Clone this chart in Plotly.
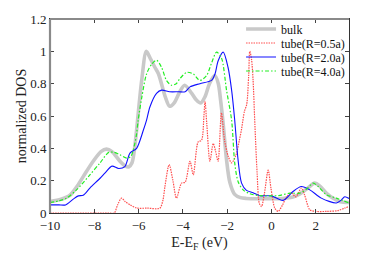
import plotly.graph_objects as go

# ---------------- data ----------------
bulk_x = [-10, -9.5, -9.1, -8.8, -8.5, -8.05, -7.7, -7.45, -7.2, -6.84, -6.6, -6.45, -6.3, -6.2,
          -6.1, -5.86, -5.65, -5.45, -5.26, -5.1, -4.8, -4.6, -4.4, -4.14, -3.92, -3.6, -3.4,
          -3.2, -3.0, -2.8, -2.56, -2.4, -2.3, -2.18, -2.03, -1.88, -1.66, -1.4, -1.13, -0.5,
          0.0, 0.5, 1.0, 1.3, 1.6, 1.95, 2.2, 2.5, 2.8, 3.1, 3.5]
bulk_y = [0.07, 0.085, 0.11, 0.16, 0.225, 0.32, 0.38, 0.395, 0.38, 0.32, 0.29, 0.285, 0.31, 0.38,
          0.50, 0.82, 1.0, 0.95, 0.90, 0.86, 0.72, 0.66, 0.68, 0.75, 0.79, 0.74, 0.70,
          0.68, 0.72, 0.80, 0.85, 0.80, 0.70, 0.55, 0.33, 0.19, 0.115, 0.095, 0.09, 0.088,
          0.088, 0.09, 0.10, 0.12, 0.15, 0.185, 0.165, 0.12, 0.09, 0.07, 0.065]

r05_x = [-10, -7.4, -7.1, -6.95, -6.77, -6.6, -6.39, -6.09, -5.6, -5.04, -4.9, -4.81, -4.62,
         -4.45, -4.29, -4.06, -3.9, -3.68, -3.53, -3.31, -3.16, -3.05, -3.0, -2.92, -2.78,
         -2.63, -2.52, -2.41, -2.26, -2.12, -1.95, -1.8, -1.6, -1.45, -1.35, -1.22, -1.12,
         -1.03, -0.98, -0.9, -0.83, -0.75, -0.65, -0.55, -0.45, -0.32, -0.15, -0.02, 0.15,
         0.3, 0.5, 0.68, 0.9, 1.1, 1.35, 1.5, 1.73, 2.0, 2.5, 3.0, 3.3, 3.5]
r05_y = [0.0, 0.0, 0.0, 0.05, 0.092, 0.07, 0.051, 0.031, 0.03, 0.03, 0.08, 0.164, 0.30,
         0.20, 0.092, 0.185, 0.19, 0.32, 0.236, 0.44, 0.45, 0.60, 0.69, 0.55, 0.32,
         0.43, 0.38, 0.32, 0.62, 0.45, 0.35, 0.31, 0.36, 0.45, 0.52, 0.63, 0.67,
         0.85, 1.0, 0.95, 0.82, 0.55, 0.25, 0.06, 0.04, 0.12, 0.265, 0.15, 0.03,
         0.01, 0.05, 0.10, 0.123, 0.10, 0.154, 0.11, 0.02, 0.01, 0.01, 0.015, 0.03, 0.04]

r20_x = [-10, -9.6, -9.3, -8.95, -8.72, -8.5, -8.2, -7.74, -7.5, -7.2, -6.9, -6.62, -6.39,
         -6.09, -5.79, -5.64, -5.49, -5.19, -4.96, -4.6, -4.2, -3.9, -3.68, -3.23, -2.71,
         -2.55, -2.41, -2.18, -1.96, -1.80, -1.66, -1.51, -1.35, -1.13, -0.83, -0.53, 0.0,
         0.52, 0.97, 1.35, 1.73, 2.25, 2.93, 3.15, 3.31, 3.5]
r20_y = [0.05, 0.05, 0.05, 0.086, 0.106, 0.11, 0.154, 0.215, 0.25, 0.29, 0.275, 0.287, 0.37,
         0.40, 0.51, 0.574, 0.656, 0.74, 0.76, 0.75, 0.75, 0.75, 0.78, 0.80, 0.82,
         0.86, 0.94, 0.995, 0.90, 0.76, 0.574, 0.33, 0.185, 0.14, 0.125, 0.107, 0.106,
         0.078, 0.133, 0.164, 0.143, 0.092, 0.062, 0.08, 0.10, 0.09]

r40_x = [-10, -9.6, -9.25, -8.8, -8.2, -7.74, -7.35, -7.1, -6.84, -6.54, -6.35, -6.24, -6.1,
         -6.02, -5.85, -5.64, -5.41, -5.19, -4.96, -4.74, -4.51, -4.3, -4.14, -3.83, -3.53,
         -3.23, -2.93, -2.7, -2.48, -2.26, -2.03, -1.80, -1.66, -1.51, -1.28, -0.98, -0.5,
         0.33, 0.83, 1.28, 1.6, 1.88, 2.1, 2.48, 2.93, 3.5]
r40_y = [0.065, 0.075, 0.092, 0.143, 0.236, 0.31, 0.375, 0.375, 0.36, 0.34, 0.35, 0.39, 0.48,
         0.574, 0.72, 0.86, 0.92, 0.945, 0.90, 0.82, 0.79, 0.80, 0.83, 0.87, 0.86,
         0.82, 0.85, 0.93, 0.995, 0.96, 0.76, 0.574, 0.31, 0.195, 0.143, 0.119, 0.107,
         0.108, 0.123, 0.123, 0.15, 0.185, 0.165, 0.113, 0.092, 0.062]

series_names = ["bulk", "tube(R=0.5a)", "tube(R=2.0a)", "tube(R=4.0a)"]
x_ticks = [-10, -8, -6, -4, -2, 0, 2]
y_ticks = [0, 0.2, 0.4, 0.6, 0.8, 1.0, 1.2]
y_tick_text = ["0", "0.2", "0.4", "0.6", "0.8", "1", "1.2"]

# ---------------- figure ----------------
FONT = "Liberation Serif"

fig = go.Figure()
styles = [
    dict(color="#c9c9c9", width=3.6, dash="solid"),
    dict(color="#ff4d4d", width=1.2, dash="1.5px,1px"),
    dict(color="#1010ff", width=1.1, dash="solid"),
    dict(color="#22ee22", width=1.2, dash="4px,2px,1.5px,2px"),
]
data = [(bulk_x, bulk_y), (r05_x, r05_y), (r20_x, r20_y), (r40_x, r40_y)]
legend_ids = ["legend", "legend2", "legend3", "legend4"]
for (xs, ys), name, st, lg in zip(data, series_names, styles, legend_ids):
    fig.add_trace(go.Scatter(
        x=xs, y=ys, mode="lines", name=name, legend=lg,
        line=dict(color=st["color"], width=st["width"], dash=st["dash"],
                  shape="spline", smoothing=0.8),
        hoverinfo="skip",
    ))

# legend rows (centre of each row, in plot-area pixels from the top)
legend_row_px = [10, 24, 38, 52]
legend_common = dict(
    x=0.639, xanchor="left", yanchor="middle",
    bgcolor="rgba(0,0,0,0)", borderwidth=0,
    font=dict(family=FONT, size=12, color="#111"),
    itemwidth=30, tracegroupgap=0,
)
layout_legends = {}
for lg, py in zip(legend_ids, legend_row_px):
    layout_legends[lg] = dict(y=1 - py / 194.0, **legend_common)

fig.update_layout(
    width=386, height=259,
    margin=dict(l=50, r=37, t=19, b=46, autoexpand=False),
    paper_bgcolor="white", plot_bgcolor="white",
    showlegend=True,
    font=dict(family=FONT, size=13, color="#222"),
    xaxis=dict(
        range=[-10, 3.5], tickvals=x_ticks, ticks="inside", ticklen=4, tickwidth=1,
        tickcolor="#444", showline=True, linecolor="#333", linewidth=1, mirror="ticks",
        showgrid=False, zeroline=False, automargin=False,
        tickfont=dict(family=FONT, size=13, color="#222"),
        title=dict(text="E-E<sub>F</sub> (eV)", font=dict(family=FONT, size=14, color="#222"),
                   standoff=5),
    ),
    yaxis=dict(
        range=[0, 1.2], tickvals=y_ticks, ticktext=y_tick_text, ticks="inside", ticklen=4,
        tickwidth=1, tickcolor="#444", showline=True, linecolor="#333", linewidth=1,
        mirror="ticks", showgrid=False, zeroline=False, automargin=False,
        tickfont=dict(family=FONT, size=13, color="#222"),
        title=dict(text="normalized DOS", font=dict(family=FONT, size=14, color="#222"),
                   standoff=0),
    ),
    shapes=[
        dict(type="line", xref="paper", yref="paper", x0=0, x1=0, y0=0, y1=1,
             line=dict(color="#8a8a8a", width=2.2)),
        dict(type="line", xref="paper", yref="paper", x0=0, x1=1, y0=1, y1=1,
             line=dict(color="#8a8a8a", width=1.8)),
    ],
    **layout_legends,
)

fig.write_html("out.html", config={"displayModeBar": False},
               post_script="document.body.style.margin='0';document.body.style.padding='0';")
